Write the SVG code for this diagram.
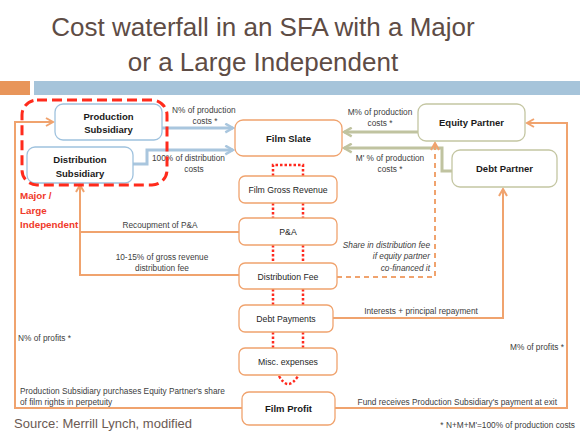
<svg xmlns="http://www.w3.org/2000/svg" width="580" height="435" viewBox="0 0 580 435">
<defs>
<style>
text{font-family:"Liberation Sans",Arial,sans-serif}
.title{font-size:26px;fill:#5e4c45;text-anchor:middle}
.nb{font-size:9.5px;font-weight:bold;fill:#1a1a1a;text-anchor:middle}
.nt{font-size:8.7px;fill:#262626;text-anchor:middle}
.lb{font-size:8.3px;fill:#404040}
.it{font-size:8.3px;fill:#404040;font-style:italic;text-anchor:end}
.red{font-size:9.8px;font-weight:bold;fill:#f03a2a}
.boxb{fill:#fff;stroke:#9fc2de;stroke-width:1.3}
.boxo{fill:#fff;stroke:#f0a36e;stroke-width:1.3}
.boxg{fill:#fff;stroke:#c4c6a2;stroke-width:1.3}
.cb{fill:none;stroke:#a9c6de;stroke-width:3}
.cg{fill:none;stroke:#c0c3a0;stroke-width:3}
.co{fill:none;stroke:#f0a36e;stroke-width:2}
.cd{fill:none;stroke:#f0a36e;stroke-width:2;stroke-dasharray:5 4}
.dot{fill:none;stroke:#ff2a1f;stroke-width:2.5;stroke-dasharray:2.5 2}
</style>
<marker id="ab" viewBox="0 0 10 10" refX="8" refY="5" markerWidth="11" markerHeight="11" markerUnits="userSpaceOnUse" orient="auto"><path d="M1,1 L8,5 L1,9" fill="none" stroke="#a9c6de" stroke-width="2.2"/></marker>
<marker id="ag" viewBox="0 0 10 10" refX="8" refY="5" markerWidth="11" markerHeight="11" markerUnits="userSpaceOnUse" orient="auto"><path d="M1,1 L8,5 L1,9" fill="none" stroke="#c0c3a0" stroke-width="2.2"/></marker>
<marker id="ao" viewBox="0 0 10 10" refX="8" refY="5" markerWidth="10" markerHeight="10" markerUnits="userSpaceOnUse" orient="auto"><path d="M1,1 L8,5 L1,9" fill="none" stroke="#f0a36e" stroke-width="2"/></marker>
</defs>
<rect width="580" height="435" fill="#fff"/>
<text class="title" x="263" y="36">Cost waterfall in an SFA with a Major</text>
<text class="title" x="263" y="71">or a Large Independent</text>
<rect x="0" y="81" width="30" height="14" fill="#e8955a"/>
<rect x="34" y="81" width="546" height="14" fill="#a6c4da"/>

<g id="connectors">
<path class="cb" d="M162,128 H233" marker-end="url(#ab)"/>
<path class="cb" d="M133,164 H147 V150 H233" marker-end="url(#ab)"/>
<path class="cg" d="M418,132 H344" marker-end="url(#ag)"/>
<path class="cg" d="M452,171 H442 V148 H344" marker-end="url(#ag)"/>
<path class="cd" d="M337,277 H435 V143" marker-end="url(#ao)"/>
<path class="co" d="M333,318 H503 V189" marker-end="url(#ao)"/>
<path class="co" d="M335,408 H567 V123 H527" marker-end="url(#ao)"/>
<path class="co" d="M242,408 H15 V122 H53" marker-end="url(#ao)"/>
<path class="co" d="M239,232 H80 V185" marker-end="url(#ao)"/>
<path class="co" d="M239,275 H80 V232"/>
<path class="dot" d="M273,176 V165 H303 V176"/>
<path class="dot" d="M273,203 V218 M303,203 V218"/>
<path class="dot" d="M273,245 V263 M303,245 V263"/>
<path class="dot" d="M273,289 V305 M303,289 V305"/>
<path class="dot" d="M273,332 V348 M303,332 V348"/>
<path class="dot" d="M279,376 Q288,392 298,376"/>
</g>

<g id="labels">
<text class="lb" x="172" y="113">N% of production</text>
<text class="lb" x="205" y="124" text-anchor="middle">costs *</text>
<text class="lb" x="152" y="161">100% of distribution</text>
<text class="lb" x="194" y="172" text-anchor="middle">costs</text>
<text class="lb" x="380" y="115" text-anchor="middle">M% of production</text>
<text class="lb" x="380" y="126" text-anchor="middle">costs *</text>
<text class="lb" x="390" y="161" text-anchor="middle">M' % of production</text>
<text class="lb" x="390" y="172" text-anchor="middle">costs *</text>
<text class="lb" x="160" y="228" text-anchor="middle">Recoupment of P&amp;A</text>
<text class="lb" x="162" y="260" text-anchor="middle">10-15% of gross revenue</text>
<text class="lb" x="162" y="271" text-anchor="middle">distribution fee</text>
<text class="it" x="430" y="248">Share in distribution fee</text>
<text class="it" x="430" y="259">if equity partner</text>
<text class="it" x="430" y="271">co-financed it</text>
<text class="lb" x="421" y="314" text-anchor="middle">Interests + principal repayment</text>
<text class="lb" x="18" y="341">N% of profits *</text>
<text class="lb" x="564" y="350" text-anchor="end">M% of profits *</text>
<text class="lb" x="20" y="394">Production Subsidiary purchases Equity Partner's share</text>
<text class="lb" x="20" y="405">of film rights in perpetuity</text>
<text class="lb" x="557" y="405" text-anchor="end">Fund receives Production Subsidiary's payment at exit</text>
<text class="red" x="20" y="199">Major /</text>
<text class="red" x="20" y="214">Large</text>
<text class="red" x="20" y="228">Independent</text>
</g>

<g id="production-subsidiary"><rect class="boxb" x="55" y="104" width="107" height="36" rx="8"/><text class="nb" x="108.5" y="120">Production</text><text class="nb" x="108.5" y="133">Subsidiary</text></g>
<g id="distribution-subsidiary"><rect class="boxb" x="27" y="147" width="106" height="36" rx="8"/><text class="nb" x="80" y="163">Distribution</text><text class="nb" x="80" y="177">Subsidiary</text></g>
<g id="major-group"><rect x="22" y="100" width="145" height="85" rx="15" fill="none" stroke="#ff2b1c" stroke-width="3" stroke-dasharray="10 5"/></g>
<g id="film-slate"><rect class="boxo" x="235" y="120" width="107" height="36" rx="8"/><text class="nb" x="288.5" y="142">Film Slate</text></g>
<g id="film-gross-revenue"><rect class="boxo" x="239" y="176" width="98" height="27" rx="6"/><text class="nt" x="288" y="193">Film Gross Revenue</text></g>
<g id="pa"><rect class="boxo" x="239" y="218" width="98" height="27" rx="6"/><text class="nt" x="288" y="235">P&amp;A</text></g>
<g id="distribution-fee"><rect class="boxo" x="239" y="263" width="98" height="26" rx="6"/><text class="nt" x="288" y="280">Distribution Fee</text></g>
<g id="debt-payments"><rect class="boxo" x="239" y="305" width="94" height="27" rx="6"/><text class="nt" x="286" y="322">Debt Payments</text></g>
<g id="misc-expenses"><rect class="boxo" x="239" y="348" width="98" height="27" rx="6"/><text class="nt" x="288" y="365">Misc. expenses</text></g>
<g id="film-profit"><rect class="boxo" x="242" y="392" width="93" height="33" rx="7"/><text class="nb" x="288.5" y="412">Film Profit</text></g>
<g id="equity-partner"><rect class="boxg" x="418" y="104" width="107" height="37" rx="8"/><text class="nb" x="471.5" y="126">Equity Partner</text></g>
<g id="debt-partner"><rect class="boxg" x="452" y="150" width="105" height="37" rx="8"/><text class="nb" x="504.5" y="172">Debt Partner</text></g>

<text x="14" y="428" style="font-size:13px;fill:#6b5a53">Source: Merrill Lynch, modified</text>
<text class="lb" x="575" y="428" text-anchor="end">* N+M+M'=100% of production costs</text>
</svg>
